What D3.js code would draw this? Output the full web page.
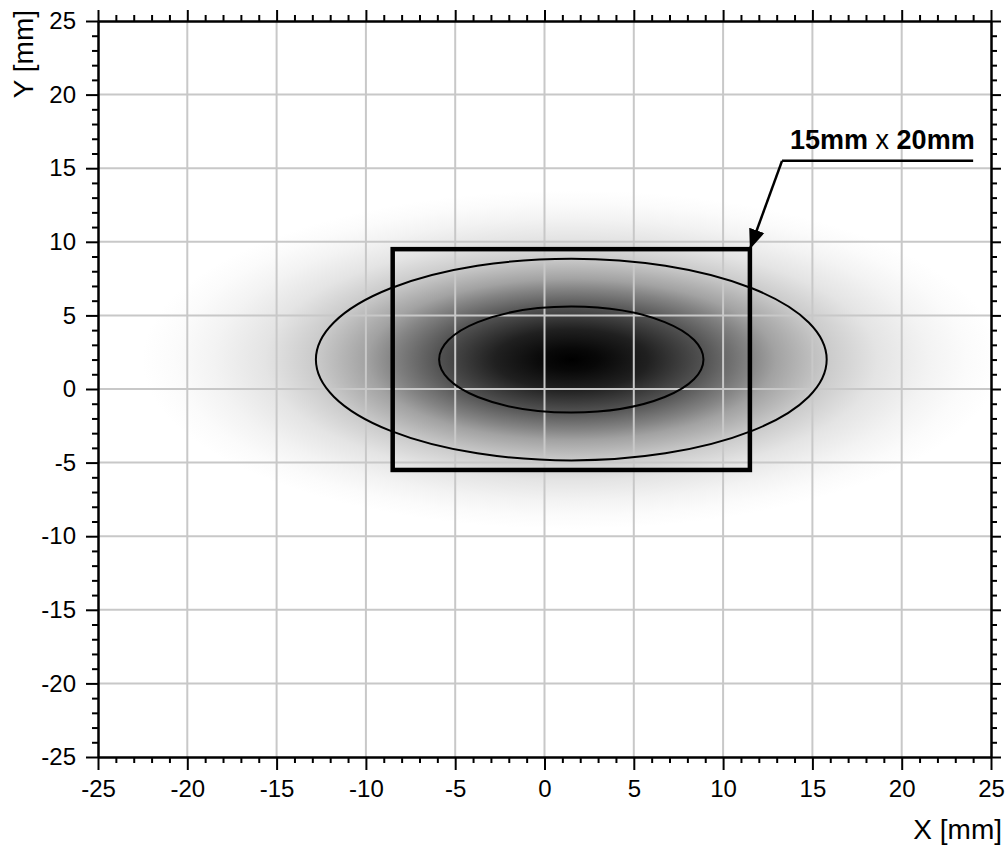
<!DOCTYPE html>
<html>
<head>
<meta charset="utf-8">
<script src="https://cdn.jsdelivr.net/npm/d3@7"></script>
<style>
  body { margin: 0; background: #fff; }
  svg text { font-family: "Liberation Sans", Arial, sans-serif; fill: #000; }
</style>
</head>
<body>
<div id="chart"></div>
<script>
// axis ticks (mm)
const majorTicks = [-25, -20, -15, -10, -5, 0, 5, 10, 15, 20, 25];
const minorTicks = d3.range(-25, 26, 1).filter(v => v % 5 !== 0);

// beam centre and contour half-widths (mm)
const beamCenter = [1.5, 2.0];
const contourRx = [7.4, 14.3];
const contourRy = [3.6, 6.85];

// intensity profile: radius relative to outer contour -> grey level
const profileRadius = [0, 0.11, 0.3, 0.51, 0.7, 0.8, 1.0, 1.2, 1.4, 1.55, 1.68];
const profileGray = [0, 8, 32, 80, 132, 162, 202, 228, 243, 251, 255];

// aperture rectangle (mm)
const apertureSize = [20, 15];
const labelBold = ["15mm", "20mm"];
const labelAnchor = [13.3, 15.5]; // start of leader line
const labelLineEnd = 24.0;

const width = 1005, height = 845;
const margin = { top: 21, right: 14, bottom: 88, left: 98 };

const svg = d3.select("#chart").append("svg")
  .attr("width", width)
  .attr("height", height);

const x = d3.scaleLinear().domain([-25, 25]).range([margin.left, width - margin.right]);
const y = d3.scaleLinear().domain([-25, 25]).range([height - margin.bottom, margin.top]);

const defs = svg.append("defs");
defs.append("clipPath").attr("id", "plot")
  .append("rect")
  .attr("x", x(-25)).attr("y", y(25))
  .attr("width", x(25) - x(-25)).attr("height", y(-25) - y(25));

const maxR = profileRadius[profileRadius.length - 1];
const grad = defs.append("radialGradient").attr("id", "beam");
grad.selectAll("stop")
  .data(profileRadius)
  .enter()
  .append("stop")
  .attr("offset", d => d / maxR)
  .attr("stop-color", (d, i) => d3.rgb(profileGray[i], profileGray[i], profileGray[i]));

const cx = x(beamCenter[0]), cy = y(beamCenter[1]);
const outerRx = x(beamCenter[0] + contourRx[1]) - cx;
const outerRy = cy - y(beamCenter[1] + contourRy[1]);

// intensity image
svg.append("ellipse")
  .attr("clip-path", "url(#plot)")
  .attr("cx", cx).attr("cy", cy)
  .attr("rx", outerRx * maxR).attr("ry", outerRy * maxR)
  .attr("fill", "url(#beam)");

// grid
const grid = svg.append("g").attr("stroke", "#c8c8c8").attr("stroke-width", 2);
grid.selectAll(".gx")
  .data(majorTicks.slice(1, -1))
  .enter().append("line")
  .attr("x1", d => x(d)).attr("x2", d => x(d))
  .attr("y1", y(25)).attr("y2", y(-25));
grid.selectAll(".gy")
  .data(majorTicks.slice(1, -1))
  .enter().append("line")
  .attr("y1", d => y(d)).attr("y2", d => y(d))
  .attr("x1", x(-25)).attr("x2", x(25));

// contours
svg.selectAll(".contour")
  .data(contourRx)
  .enter().append("ellipse")
  .attr("cx", cx).attr("cy", cy)
  .attr("rx", d => x(beamCenter[0] + d) - cx)
  .attr("ry", (d, i) => cy - y(beamCenter[1] + contourRy[i]))
  .attr("fill", "none")
  .attr("stroke", "#000")
  .attr("stroke-width", 2);

// aperture
const ax0 = beamCenter[0] - apertureSize[0] / 2, ax1 = beamCenter[0] + apertureSize[0] / 2;
const ay0 = beamCenter[1] - apertureSize[1] / 2, ay1 = beamCenter[1] + apertureSize[1] / 2;
svg.append("rect")
  .attr("x", x(ax0)).attr("y", y(ay1))
  .attr("width", x(ax1) - x(ax0)).attr("height", y(ay0) - y(ay1))
  .attr("fill", "none")
  .attr("stroke", "#000")
  .attr("stroke-width", 4.5);

// axes
function styleAxis(g) {
  g.selectAll("path.domain").attr("stroke", "#000").attr("stroke-width", 2);
  g.selectAll(".tick line").attr("stroke", "#000").attr("stroke-width", 2);
  g.selectAll("text").attr("font-size", 24).attr("font-family", null).attr("fill", "#000");
}
const fmt = d => d < 0 ? "-" + Math.abs(d) : String(d);

svg.append("g").attr("transform", "translate(0," + y(-25) + ")")
  .call(d3.axisBottom(x).tickValues(minorTicks).tickSize(6).tickSizeOuter(0).tickFormat(""))
  .call(styleAxis);
svg.append("g").attr("transform", "translate(0," + y(-25) + ")")
  .call(d3.axisBottom(x).tickValues(majorTicks).tickSize(13).tickSizeOuter(0).tickPadding(10).tickFormat(fmt))
  .call(styleAxis);

svg.append("g").attr("transform", "translate(0," + y(25) + ")")
  .call(d3.axisTop(x).tickValues(minorTicks).tickSize(6).tickSizeOuter(0).tickFormat(""))
  .call(styleAxis);
svg.append("g").attr("transform", "translate(0," + y(25) + ")")
  .call(d3.axisTop(x).tickValues(majorTicks).tickSize(11).tickSizeOuter(0).tickFormat(""))
  .call(styleAxis);

svg.append("g").attr("transform", "translate(" + x(-25) + ",0)")
  .call(d3.axisLeft(y).tickValues(minorTicks).tickSize(6).tickSizeOuter(0).tickFormat(""))
  .call(styleAxis);
svg.append("g").attr("transform", "translate(" + x(-25) + ",0)")
  .call(d3.axisLeft(y).tickValues(majorTicks).tickSize(12).tickSizeOuter(0).tickPadding(10).tickFormat(fmt))
  .call(styleAxis);

svg.append("g").attr("transform", "translate(" + x(25) + ",0)")
  .call(d3.axisRight(y).tickValues(minorTicks).tickSize(6).tickSizeOuter(0).tickFormat(""))
  .call(styleAxis);
svg.append("g").attr("transform", "translate(" + x(25) + ",0)")
  .call(d3.axisRight(y).tickValues(majorTicks).tickSize(10).tickSizeOuter(0).tickFormat(""))
  .call(styleAxis);

// axis titles
svg.append("text")
  .attr("x", 1002).attr("y", 839)
  .attr("text-anchor", "end")
  .attr("font-size", 28)
  .text("X [mm]");
svg.append("text")
  .attr("transform", "translate(33,10) rotate(-90)")
  .attr("text-anchor", "end")
  .attr("font-size", 28)
  .text("Y [mm]");

// annotation
defs.append("marker")
  .attr("id", "arrow")
  .attr("viewBox", "0 0 10 10")
  .attr("refX", 10).attr("refY", 5)
  .attr("markerWidth", 8).attr("markerHeight", 8)
  .attr("markerUnits", "strokeWidth")
  .attr("orient", "auto")
  .append("path")
  .attr("d", "M0,1 L10,5 L0,9 Z")
  .attr("fill", "#000");

const lx = x(labelAnchor[0]), ly = y(labelAnchor[1]);
svg.append("line")
  .attr("x1", lx).attr("y1", ly)
  .attr("x2", x(labelLineEnd)).attr("y2", ly)
  .attr("stroke", "#000").attr("stroke-width", 2.5);
svg.append("line")
  .attr("x1", lx).attr("y1", ly)
  .attr("x2", x(ax1)).attr("y2", y(ay1))
  .attr("stroke", "#000").attr("stroke-width", 2.5)
  .attr("marker-end", "url(#arrow)");

const label = svg.append("text")
  .attr("x", lx + 8).attr("y", ly - 12)
  .attr("font-size", 27);
label.append("tspan").attr("font-weight", "bold").text(labelBold[0]);
label.append("tspan").text(" x ");
label.append("tspan").attr("font-weight", "bold").text(labelBold[1]);
</script>
</body>
</html>
